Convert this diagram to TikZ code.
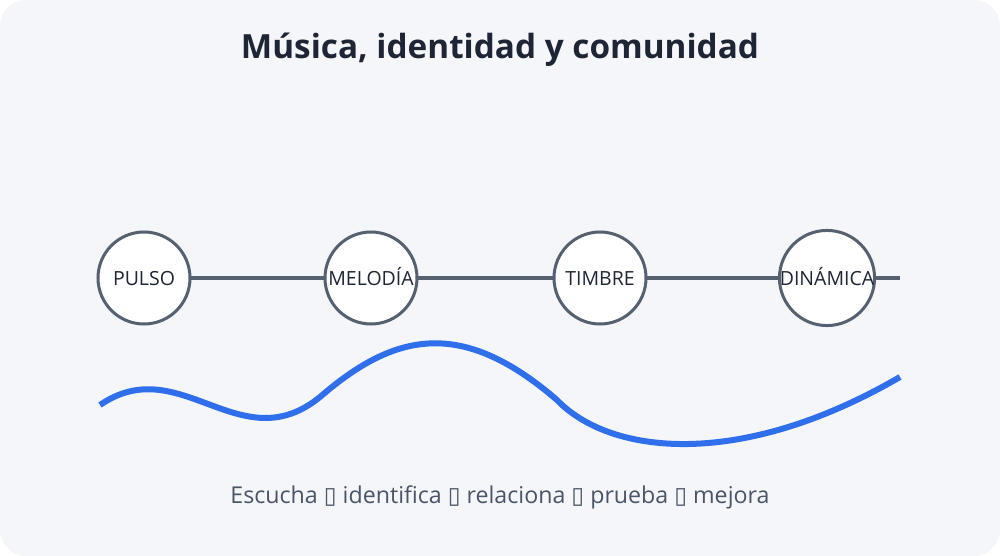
\documentclass[tikz,border=0pt]{standalone}
\usepackage{fontspec}
\setmainfont{Open Sans}
\newfontfamily\symfont{DejaVu Sans}
\usepackage{tikz}
\definecolor{panel}{HTML}{F4F6FA}
\definecolor{ink}{HTML}{1E2636}
\definecolor{slate}{HTML}{556070}
\definecolor{wave}{HTML}{2F6FEB}
\definecolor{note}{HTML}{4A5568}
\tikzset{every picture/.style={x=1pt, y=-1pt}}
\tikzset{stage/.style={draw=slate, line width=3pt, fill=white, circle, minimum size=92pt, inner sep=0pt, text=ink, text height=14pt, text depth=0pt, font=\fontsize{19.5}{22}\selectfont}}
\tikzset{track/.style={draw=slate, line width=4pt}}
\newcommand{\tofu}{{\symfont\char"25AF}}

\begin{document}
\begin{tikzpicture}
\useasboundingbox (0,0) rectangle (1000,556);
\fill[panel, rounded corners=26pt] (0,0) rectangle (1000,556);
\node[text=ink, font=\bfseries\fontsize{33.3}{38}\selectfont] (title) at (500,50) {Música, identidad y comunidad};
\coordinate (end) at (900,278);
\draw[track] (144,278) -- (end);
\node[stage] (pulso) at (144,278) {PULSO};
\node[stage] (melodia) at (371,278) {MELODÍA};
\node[stage] (timbre) at (600,278) {TIMBRE};
\node[stage] (dinamica) at (827,278) {DINÁMICA};
\draw[track] (dinamica.east) -- (end);
\draw[wave, line width=6pt] (100,405) .. controls (180,350) and (240,462) .. (320,397)
  .. controls (395,332) and (462,318) .. (557,400)
  .. controls (610,455) and (740,470) .. (900,377);
\node[text=note, font=\fontsize{23.2}{27}\selectfont] (steps) at (500,497) {Escucha \tofu{} identifica \tofu{} relaciona \tofu{} prueba \tofu{} mejora};
\end{tikzpicture}
\end{document}
